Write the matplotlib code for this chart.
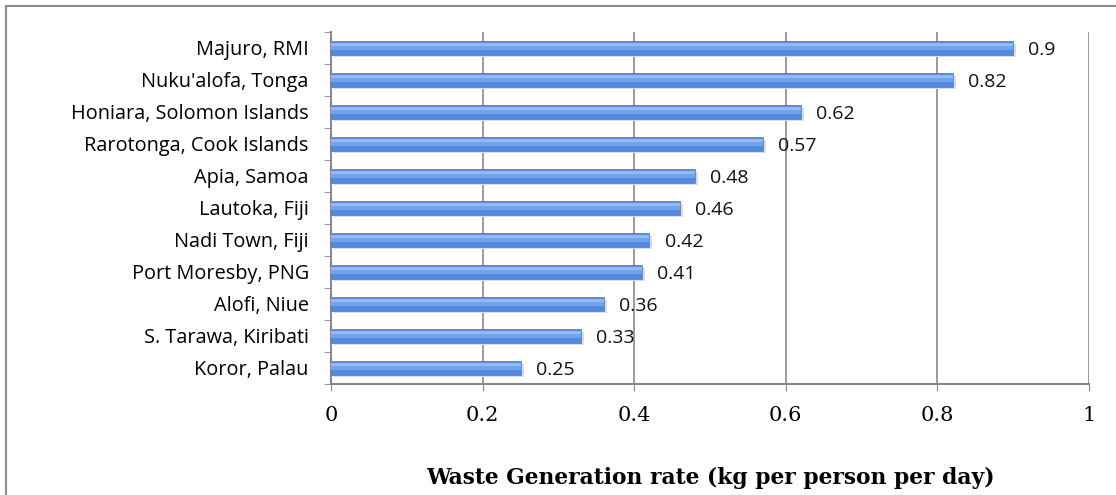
import matplotlib.pyplot as plt
from matplotlib.patches import Rectangle
import numpy as np

cities = ["Majuro, RMI", "Nuku'alofa, Tonga", "Honiara, Solomon Islands",
          "Rarotonga, Cook Islands", "Apia, Samoa", "Lautoka, Fiji",
          "Nadi Town, Fiji", "Port Moresby, PNG", "Alofi, Niue",
          "S. Tarawa, Kiribati", "Koror, Palau"]
rates = [0.9, 0.82, 0.62, 0.57, 0.48, 0.46, 0.42, 0.41, 0.36, 0.33, 0.25]
xticks = [0, 0.2, 0.4, 0.6, 0.8, 1]
xtick_labels = ["0", "0.2", "0.4", "0.6", "0.8", "1"]

fig = plt.figure(figsize=(11.16, 4.95), dpi=100)
ax = fig.add_axes([331 / 1116, 1 - 384 / 495, 758 / 1116, 352 / 495])

# outer frame like the source document
fig.patches.append(Rectangle((6 / 1116, -0.1), 1.2, (495 - 6) / 495 + 0.1,
                             transform=fig.transFigure, fill=False,
                             edgecolor="#8c8c8c", linewidth=1.5))

y = np.arange(len(cities))[::-1]
# soft shadow, bar, lighter top half for the gradient look
ax.barh(y - 0.07, rates, height=0.42, left=0.004, color="#dcdcdc", zorder=2)
ax.barh(y, rates, height=0.42, color="#5389dc", edgecolor="#4a7ccc",
        linewidth=0.5, zorder=3)
ax.barh(y + 0.05, rates, height=0.24, color="#74a3ea", linewidth=0, zorder=4)
ax.barh(y + 0.11, rates, height=0.12, color="#93b9f2", linewidth=0, zorder=5)

for yi, v in zip(y, rates):
    ax.text(v + 0.02, yi - 0.05, f"{v:g}", va="center", ha="left",
            fontsize=14, family="Open Sans", color="#111111")

ax.set_xlim(0, 1)
ax.set_ylim(-0.5, len(cities) - 0.5)
ax.set_xticks(xticks)
ax.set_xticklabels(xtick_labels, family="DejaVu Serif", fontsize=15)
ax.set_yticks(y)
ax.set_yticklabels(cities, family="Open Sans", fontsize=14.3)
ax.set_yticks(np.arange(len(cities) + 1) - 0.5, minor=True)
ax.tick_params(axis="y", which="major", length=0, pad=16)
ax.tick_params(axis="y", which="minor", length=5, color="#888888", direction="out")
ax.tick_params(axis="x", length=5, color="#888888", pad=11)

ax.grid(axis="x", color="#8a8a8a", linewidth=1.2, zorder=0)
ax.set_axisbelow(True)
for s in ["top", "right"]:
    ax.spines[s].set_visible(False)
for s in ["left", "bottom"]:
    ax.spines[s].set_color("#888888")
    ax.spines[s].set_linewidth(1.5)

ax.set_xlabel("Waste Generation rate (kg per person per day)",
              family="DejaVu Serif", fontsize=15.7, fontweight="bold",
              labelpad=30)

fig.savefig("out.png", dpi=100)
